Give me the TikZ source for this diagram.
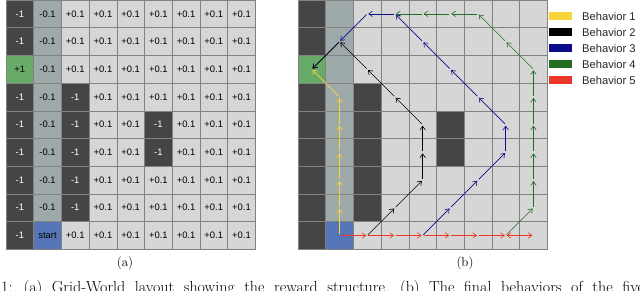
\documentclass[tikz,border=0pt]{standalone}
\usepackage{fontspec}
\newfontfamily\gridfont{Liberation Sans}
\usetikzlibrary{arrows.meta,positioning}

\definecolor{gridLight}{RGB}{214,214,214}
\definecolor{gridDark}{RGB}{69,69,69}
\definecolor{gridSlate}{RGB}{158,170,170}
\definecolor{gridLine}{RGB}{130,130,130}
\definecolor{goalGreen}{RGB}{104,170,104}
\definecolor{startBlue}{RGB}{86,118,184}
\definecolor{beh1}{RGB}{250,212,60}
\definecolor{beh2}{RGB}{0,0,0}
\definecolor{beh3}{RGB}{12,12,140}
\definecolor{beh4}{RGB}{35,110,35}
\definecolor{beh5}{RGB}{235,55,40}

\tikzset{
  cell/.style={draw=gridLine, line width=0.6pt, minimum size=27.7pt, inner sep=0pt,
    font=\gridfont\fontsize{9.4}{11}\selectfont},
  k0/.style={fill=gridLight},
  k1/.style={fill=gridDark, text=white},
  k2/.style={fill=gridSlate},
  k3/.style={fill=goalGreen},
  k4/.style={fill=startBlue},
  move/.style={line width=0.6pt, >={Straight Barb[length=3.8pt,width=5.5pt]},
    shorten >=1pt, shorten <=1pt},
  swatch/.style={minimum width=23pt, minimum height=7.5pt, inner sep=0pt},
  legend/.style={inner sep=0pt, font=\gridfont\fontsize{11.2}{13}\selectfont, text=black!85},
}

\begin{document}
\begin{tikzpicture}[x=1pt, y=-1pt]
  \useasboundingbox (0,0) rectangle (640,290);

  % both grids, cell by cell
  \foreach \c in {0,...,8}
    \foreach \r in {0,...,8} {
      \pgfmathtruncatemacro\k{(\c==0) ? ((\r==2) ? 3 : 1) :
        ((\c==1) ? ((\r==8) ? 4 : 2) :
        (((\c==2 && \r>2 && \r<8) || (\c==5 && (\r==4 || \r==5))) ? 1 : 0))}
      \node[cell, k\k] (a-\c-\r) at (19.85+27.7*\c, 13.85+27.7*\r)
        {\ifcase\k +0.1\or -1\or -0.1\or +1\or start\fi};
      \node[cell, k\k] (b-\c-\r) at (311.85+27.7*\c, 13.85+27.7*\r) {};
      \coordinate (m-\c-\r) at (b-\c-\r.center);
    }

  % behavior 4
  \foreach \p [remember=\p as \q (initially 7-8)] in
      {8-7,8-6,8-5,8-4,8-3,8-2,7-1,6-0,5-0,4-0,3-0}
    \draw[move, beh4, ->] (m-\q) -- (m-\p);
  % behavior 3
  \foreach \p [remember=\p as \q (initially 4-8)] in
      {5-7,6-6,7-5,7-4,6-3,5-2,4-1,3-0,2-0,1-1,0-2}
    \draw[move, beh3, ->] (m-\q) -- (m-\p);
  % behavior 2
  \foreach \p [remember=\p as \q (initially 2-8)] in
      {3-7,4-6,4-5,4-4,3-3,2-2,1-1,0-2}
    \draw[move, beh2, ->] (m-\q) -- (m-\p);
  % behavior 1
  \foreach \p [remember=\p as \q (initially 1-8)] in
      {1-7,1-6,1-5,1-4,1-3,0-2}
    \draw[move, beh1, ->] (m-\q) -- (m-\p);
  % behavior 5
  \foreach \p [remember=\p as \q (initially 1-8)] in
      {2-8,3-8,4-8,5-8,6-8,7-8}
    \draw[move, beh5, ->] (m-\q) -- (m-\p);
  \draw[move, beh5, <->] (m-7-8) -- (m-8-8);

  % legend
  \foreach \n [count=\i from 0] in {1,...,5} {
    \node[swatch, fill=beh\n] (sw\n) at (560.8, 16+16*\i) {};
    \node[legend, right=9.4pt of sw\n] (lb\n) {Behavior \n};
  }

  % captions
  \node[font=\fontsize{13}{15}\selectfont] (capa) at (125,263) {(a)};
  \node[font=\fontsize{13}{15}\selectfont] (capb) at (465,263) {(b)};
  \node[anchor=base west, inner sep=0pt, font=\fontsize{16}{18}\selectfont] (caption)
    at (1,292.5) {\spaceskip=9.5pt 1: (a) Grid-World layout showing the reward structure. (b) The final behaviors of the five};
\end{tikzpicture}
\end{document}
